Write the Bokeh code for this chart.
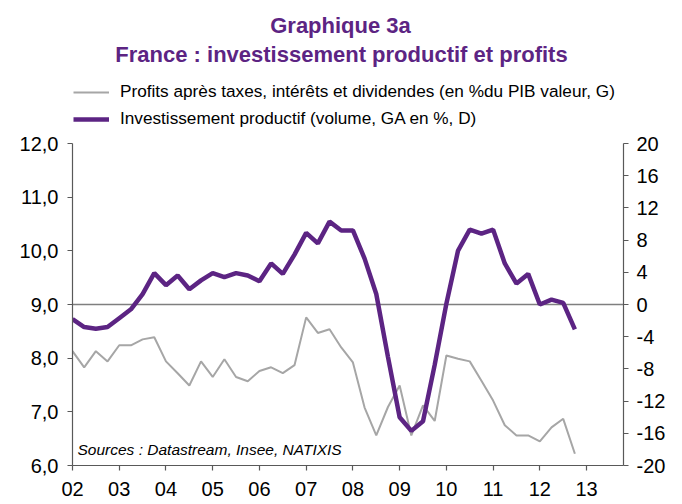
from bokeh.plotting import figure
from bokeh.models import (Range1d, LinearAxis, Span, Label, Legend, LegendItem,
                          FixedTicker, ColumnDataSource)
from bokeh.embed import file_html
from bokeh.resources import INLINE

# ---- data ----
years = list(range(2002, 2013))
quarters = [1, 2, 3, 4]

profits = [8.13, 7.83, 8.13, 7.94,
           8.24, 8.24, 8.35, 8.39,
           7.94, 7.72, 7.49, 7.94,
           7.65, 7.98, 7.65, 7.57,
           7.76, 7.83, 7.72, 7.87,
           8.76, 8.47, 8.54, 8.20,
           7.92, 7.08, 6.56, 7.09,
           7.49, 6.56, 7.12, 6.83,
           8.05, 7.99, 7.94, 7.58,
           7.21, 6.75, 6.56, 6.56,
           6.45, 6.71, 6.87, 6.22]

invest = [-1.8, -2.8, -3.0, -2.8,
          -1.7, -0.6, 1.3, 3.9,
          2.4, 3.6, 1.9, 3.0,
          3.9, 3.4, 3.9, 3.6,
          2.9, 5.1, 3.8, 6.2,
          8.9, 7.6, 10.3, 9.2,
          9.2, 5.7, 1.3, -6.5,
          -14.0, -15.7, -14.5, -7.5,
          0.1, 6.7, 9.3, 8.8,
          9.3, 5.1, 2.6, 3.8,
          0.0, 0.6, 0.2, -3.1]

year_ticks = list(range(2002, 2014))
year_labels = ["02", "03", "04", "05", "06", "07", "08", "09", "10", "11", "12", "13"]
left_ticks = [6, 7, 8, 9, 10, 11, 12]
left_labels = ["6,0", "7,0", "8,0", "9,0", "10,0", "11,0", "12,0"]
right_ticks = [-20, -16, -12, -8, -4, 0, 4, 8, 12, 16, 20]
right_labels = ["-20", "-16", "-12", "-8", "-4", "0", "4", "8", "12", "16", "20"]

title1 = "Graphique 3a"
title2 = "France : investissement productif et profits"
label_profits = "Profits après taxes, intérêts et dividendes (en %du PIB valeur, G)"
label_invest = "Investissement productif (volume, GA en %, D)"
source_text = "Sources : Datastream, Insee, NATIXIS"

dates = [y + (q - 1) / 4 for y in years for q in quarters]
src = ColumnDataSource(dict(date=dates, profits=profits, invest=invest))

PURPLE = "#5C2483"
GREY = "#A6A6A6"
AXIS = "#595959"
FONT = "Liberation Sans"

# plotted area: left axis 6..12 and right axis -20..20 over 322 px;
# the frame is extended upward to hold the header (titles + legend)
FRAME_PX = 465.0
AXIS_PX = 322.0
left_top = 6 + FRAME_PX * (12 - 6) / AXIS_PX
right_top = -20 + FRAME_PX * (20 - (-20)) / AXIS_PX

p = figure(width=682, height=504, output_backend="svg", toolbar_location=None,
           title=None,
           x_range=Range1d(2002, 2013.79), y_range=Range1d(6, left_top),
           min_border_left=72, min_border_right=59, min_border_top=0,
           min_border_bottom=39)
p.extra_y_ranges = {"inv": Range1d(-20, right_top)}
p.outline_line_color = None
p.xgrid.visible = False
p.ygrid.visible = False
p.background_fill_color = "white"

def style(ax):
    ax.axis_line_color = AXIS
    ax.axis_line_width = 1.2
    ax.major_tick_line_color = AXIS
    ax.major_tick_line_width = 1.2
    ax.major_tick_in = 0
    ax.major_tick_out = 5
    ax.minor_tick_line_color = None
    ax.major_label_text_font = FONT
    ax.major_label_text_font_size = "20px"
    ax.major_label_text_color = "black"

xa = p.xaxis[0]
xa.ticker = FixedTicker(ticks=year_ticks)
xa.major_label_overrides = dict(zip(year_ticks, year_labels))
style(xa)
xa.major_label_standoff = 11

ya = p.yaxis[0]
ya.ticker = FixedTicker(ticks=left_ticks)
ya.major_label_overrides = dict(zip(left_ticks, left_labels))
ya.bounds = (6, 12)
style(ya)
ya.major_label_standoff = 9

ra = LinearAxis(y_range_name="inv", ticker=FixedTicker(ticks=right_ticks),
                bounds=(-20, 20))
ra.major_label_overrides = dict(zip(right_ticks, right_labels))
style(ra)
ra.major_label_standoff = 8
p.add_layout(ra, "right")

zero = Span(location=0, dimension="width", y_range_name="inv",
            line_color="#7F7F7F", line_width=1.5, level="underlay")
p.add_layout(zero)

r1 = p.line("date", "profits", source=src, color=GREY, line_width=2)
r2 = p.line("date", "invest", source=src, color=PURPLE, line_width=4.5,
            y_range_name="inv")

legend = Legend(items=[LegendItem(label=label_profits, renderers=[r1]),
                       LegendItem(label=label_invest, renderers=[r2])],
                location=(1, 336), glyph_width=36, glyph_height=20,
                label_height=20, spacing=6, padding=0, margin=0,
                label_standoff=11, border_line_alpha=0,
                background_fill_alpha=0, label_text_font=FONT,
                label_text_font_size="17.2px", label_text_color="black")
p.add_layout(legend)

p.add_layout(Label(x=268, y=440, x_units="screen", y_units="screen", text=title1,
                   text_align="center", text_baseline="alphabetic",
                   text_font=FONT, text_font_style="bold",
                   text_font_size="22px", text_color=PURPLE))
p.add_layout(Label(x=269, y=411, x_units="screen", y_units="screen", text=title2,
                   text_align="center", text_baseline="alphabetic",
                   text_font=FONT, text_font_style="bold",
                   text_font_size="22px", text_color=PURPLE))
p.add_layout(Label(x=5, y=16, x_units="screen", y_units="screen", text=source_text,
                   text_align="left", text_baseline="alphabetic",
                   text_font=FONT, text_font_style="italic",
                   text_font_size="15.5px", text_color="black"))

open("out.html", "w").write(file_html(p, INLINE))
